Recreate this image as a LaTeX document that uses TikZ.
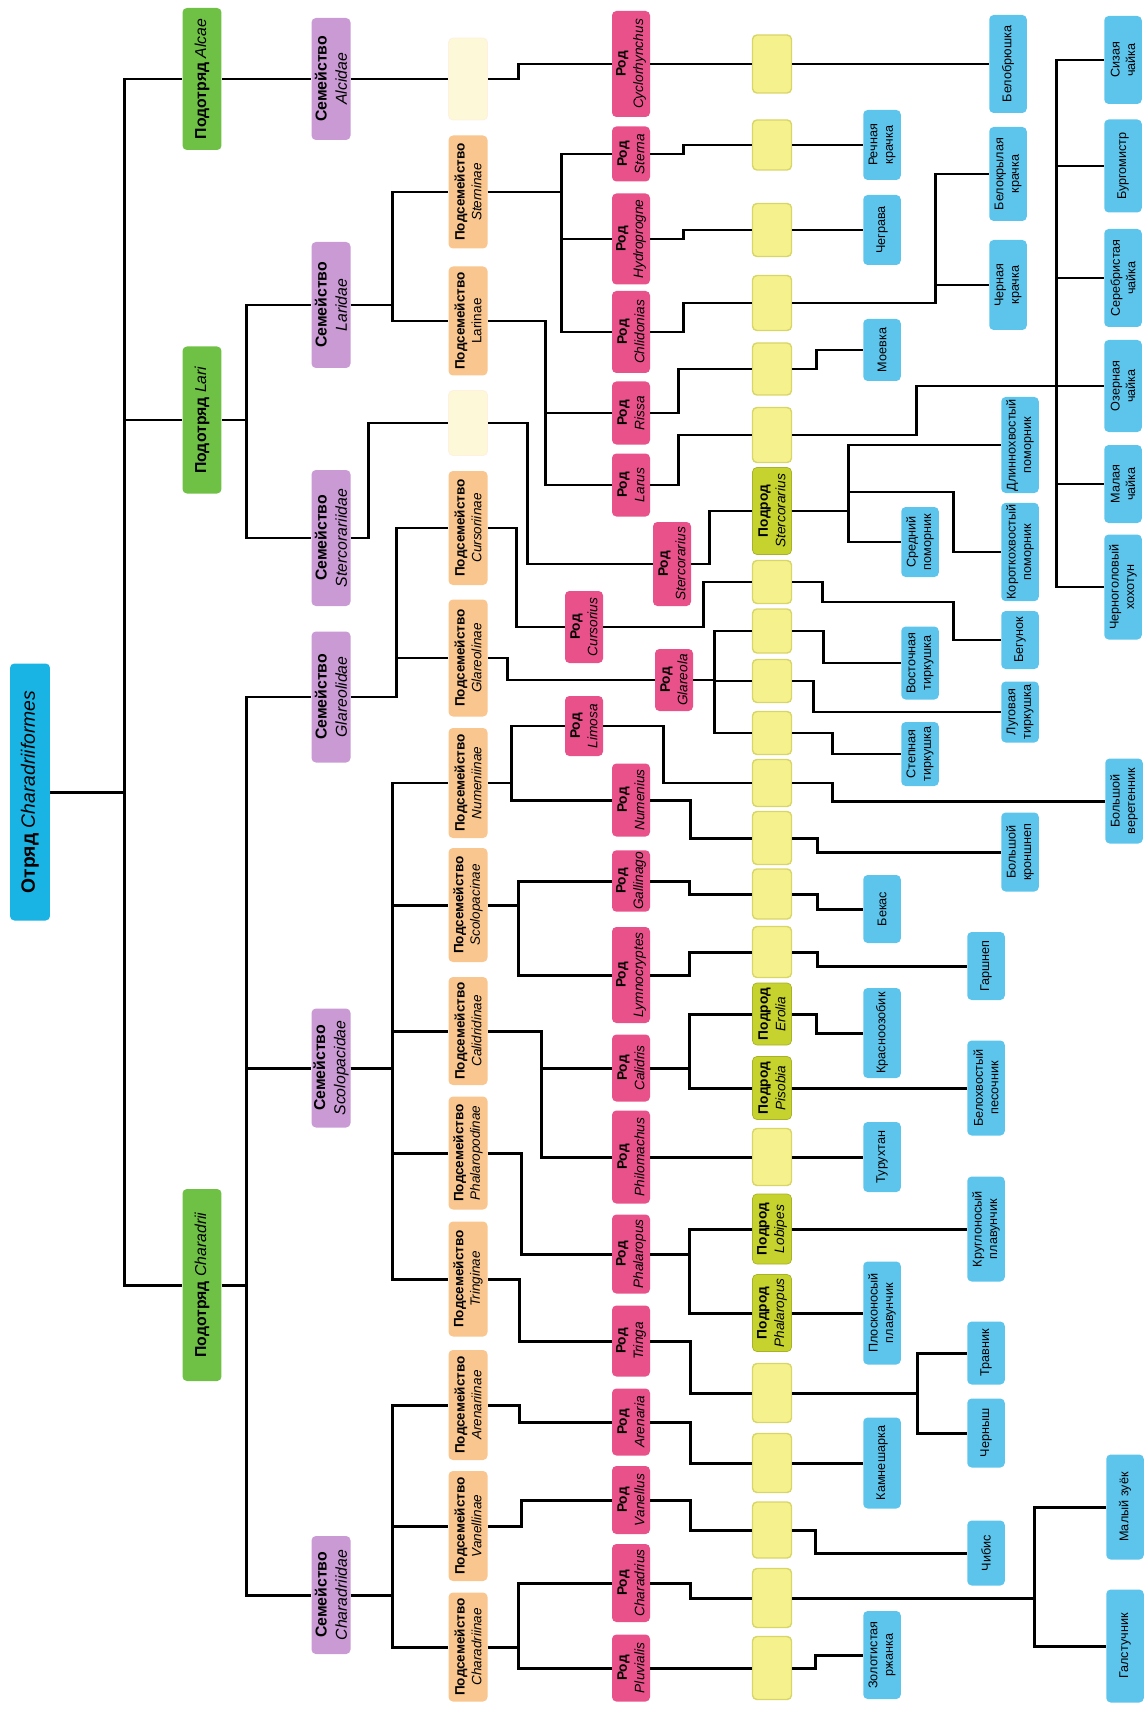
\documentclass[tikz,border=0pt]{standalone}
\usepackage{fontspec}
\setmainfont{Liberation Sans}
\definecolor{ordblue}{HTML}{19B4E3}
\definecolor{subgreen}{HTML}{6FC146}
\definecolor{famlilac}{HTML}{C99AD4}
\definecolor{subforange}{HTML}{F8C68E}
\definecolor{palecream}{HTML}{FDF8D8}
\definecolor{genpink}{HTML}{E9518B}
\definecolor{sgyellow}{HTML}{F5F18C}
\definecolor{sgolive}{HTML}{C6D22D}
\definecolor{spblue}{HTML}{5DC4EC}

% elbow connector: source, offset to the bus, target
\newcommand{\branch}[3]{\draw[link] (#1.south) -- ++(#2,0) |- (#3.north);}

\begin{document}
\begin{tikzpicture}[
    x=0.02cm, y=-0.02cm,
    box/.style={rotate=90, rounded corners=2.5pt, align=center, inner sep=1pt, minimum height=0.78cm},
    len/.style={minimum width=#1*0.02cm},
    ordbox/.style={box, fill=ordblue, minimum height=0.8cm, font=\fontsize{11}{13}\selectfont},
    suborder/.style={box, fill=subgreen, font=\fontsize{9}{11}\selectfont},
    family/.style={box, fill=famlilac, font=\fontsize{9}{11.5}\selectfont},
    subfam/.style={box, fill=subforange, font=\fontsize{7.7}{9.5}\selectfont},
    blanksf/.style={box, fill=palecream, draw=orange!12},
    genus/.style={box, fill=genpink, minimum height=0.76cm, font=\fontsize{7.8}{10}\selectfont},
    blanksg/.style={box, fill=sgyellow, draw=sgyellow!75!olive, thick},
    subgen/.style={box, fill=sgolive, draw=sgolive!85!black, font=\fontsize{7.8}{10}\selectfont},
    species/.style={box, fill=spblue, minimum height=0.75cm, font=\fontsize{7.2}{8.8}\selectfont},
    link/.style={line width=1.7pt, black},
]
    \useasboundingbox (0,0) rectangle (1144,1709);

    % Order and suborders
    \node[ordbox, len=257] (ord) at (30,792) {\textbf{Отряд} \textit{Charadriiformes}};
    \node[suborder, len=142] (soAlc) at (202,79) {\textbf{Подотряд} \textit{Alcae}};
    \node[suborder, len=147] (soLar) at (202,420) {\textbf{Подотряд} \textit{Lari}};
    \node[suborder, len=192] (soCha) at (202,1285) {\textbf{Подотряд} \textit{Charadrii}};

    % Families
    \node[family, len=122] (fAlc) at (331,79) {\textbf{Семейство}\\\textit{Alcidae}};
    \node[family, len=126] (fLar) at (331,305) {\textbf{Семейство}\\\textit{Laridae}};
    \node[family, len=136] (fSte) at (331,538) {\textbf{Семейство}\\\textit{Stercorariidae}};
    \node[family, len=131] (fGla) at (331,697) {\textbf{Семейство}\\\textit{Glareolidae}};
    \node[family, len=119] (fSco) at (331,1068) {\textbf{Семейство}\\\textit{Scolopacidae}};
    \node[family, len=118] (fCha) at (331,1595) {\textbf{Семейство}\\\textit{Charadriidae}};

    % Subfamilies
    \node[blanksf, len=82] (sfE1) at (468,79) {};
    \node[subfam, len=113] (sfStern) at (468,192) {\textbf{Подсемейство}\\\textit{Sterninae}};
    \node[subfam, len=109] (sfLar) at (468,321) {\textbf{Подсемейство}\\Larinae};
    \node[blanksf, len=65] (sfE2) at (468,423) {};
    \node[subfam, len=114] (sfCurs) at (468,528) {\textbf{Подсемейство}\\\textit{Cursoriinae}};
    \node[subfam, len=117] (sfGlar) at (468,658) {\textbf{Подсемейство}\\\textit{Glareolinae}};
    \node[subfam, len=110] (sfNum) at (468,783) {\textbf{Подсемейство}\\\textit{Numeniinae}};
    \node[subfam, len=114] (sfScol) at (468,905) {\textbf{Подсемейство}\\\textit{Scolopacinae}};
    \node[subfam, len=108] (sfCal) at (468,1031) {\textbf{Подсемейство}\\\textit{Calidridinae}};
    \node[subfam, len=113] (sfPhal) at (468,1153) {\textbf{Подсемейство}\\\textit{Phalaropodinae}};
    \node[subfam, len=115] (sfTring) at (468,1279) {\textbf{Подсемейство}\\\textit{Tringinae}};
    \node[subfam, len=110] (sfAren) at (468,1405) {\textbf{Подсемейство}\\\textit{Arenariinae}};
    \node[subfam, len=110] (sfVan) at (468,1526) {\textbf{Подсемейство}\\\textit{Vanellinae}};
    \node[subfam, len=109] (sfChar) at (468,1647) {\textbf{Подсемейство}\\\textit{Charadriinae}};

    % Genera
    \node[genus, len=106] (gCyc) at (631,64) {\textbf{Род}\\\textit{Cyclorhynchus}};
    \node[genus, len=55] (gSte) at (631,154) {\textbf{Род}\\\textit{Sterna}};
    \node[genus, len=91] (gHyd) at (631,239) {\textbf{Род}\\\textit{Hydroprogne}};
    \node[genus, len=82] (gChl) at (631,332) {\textbf{Род}\\\textit{Chlidonias}};
    \node[genus, len=63] (gRis) at (631,413) {\textbf{Род}\\\textit{Rissa}};
    \node[genus, len=63] (gLar) at (631,485) {\textbf{Род}\\\textit{Larus}};
    \node[genus, len=84] (gStc) at (672,564) {\textbf{Род}\\\textit{Stercorarius}};
    \node[genus, len=72] (gCur) at (584,627) {\textbf{Род}\\\textit{Cursorius}};
    \node[genus, len=62] (gGla) at (674,680) {\textbf{Род}\\\textit{Glareola}};
    \node[genus, len=60] (gLim) at (584,726) {\textbf{Род}\\\textit{Limosa}};
    \node[genus, len=73] (gNum) at (631,800) {\textbf{Род}\\\textit{Numenius}};
    \node[genus, len=61] (gGal) at (631,881) {\textbf{Род}\\\textit{Gallinago}};
    \node[genus, len=96] (gLym) at (631,975) {\textbf{Род}\\\textit{Lymnocryptes}};
    \node[genus, len=67] (gCal) at (631,1068) {\textbf{Род}\\\textit{Calidris}};
    \node[genus, len=93] (gPhi) at (631,1157) {\textbf{Род}\\\textit{Philomachus}};
    \node[genus, len=79] (gPha) at (631,1254) {\textbf{Род}\\\textit{Phalaropus}};
    \node[genus, len=71] (gTri) at (631,1341) {\textbf{Род}\\\textit{Tringa}};
    \node[genus, len=67] (gAre) at (631,1422) {\textbf{Род}\\\textit{Arenaria}};
    \node[genus, len=68] (gVan) at (631,1500) {\textbf{Род}\\\textit{Vanellus}};
    \node[genus, len=78] (gChr) at (631,1583) {\textbf{Род}\\\textit{Charadrius}};
    \node[genus, len=67] (gPlu) at (631,1668) {\textbf{Род}\\\textit{Pluvialis}};

    % Subgenera
    \node[blanksg, len=58] (yCyc) at (772,64) {};
    \node[blanksg, len=50] (ySte) at (772,145) {};
    \node[blanksg, len=53] (yHyd) at (772,230) {};
    \node[blanksg, len=55] (yChl) at (772,303) {};
    \node[blanksg, len=52] (yRis) at (772,369) {};
    \node[blanksg, len=55] (yLar) at (772,435) {};
    \node[subgen, len=87] (yStc) at (772,511) {\textbf{Подрод}\\\textit{Stercorarius}};
    \node[blanksg, len=43] (yCur) at (772,582) {};
    \node[blanksg, len=44] (yGla1) at (772,631) {};
    \node[blanksg, len=43] (yGla2) at (772,681) {};
    \node[blanksg, len=43] (yGla3) at (772,733) {};
    \node[blanksg, len=47] (yLim) at (772,783) {};
    \node[blanksg, len=53] (yNum) at (772,838) {};
    \node[blanksg, len=50] (yGal) at (772,894) {};
    \node[blanksg, len=51] (yLym) at (772,952) {};
    \node[subgen, len=62] (yEro) at (772,1014) {\textbf{Подрод}\\\textit{Erolia}};
    \node[subgen, len=63] (yPis) at (772,1088) {\textbf{Подрод}\\\textit{Pisobia}};
    \node[blanksg, len=57] (yPhi) at (772,1157) {};
    \node[subgen, len=70] (yLob) at (772,1229) {\textbf{Подрод}\\\textit{Lobipes}};
    \node[subgen, len=77] (yPha) at (772,1313) {\textbf{Подрод}\\\textit{Phalaropus}};
    \node[blanksg, len=59] (yTri) at (772,1393) {};
    \node[blanksg, len=59] (yAre) at (772,1463) {};
    \node[blanksg, len=56] (yVan) at (772,1530) {};
    \node[blanksg, len=59] (yChr) at (772,1598) {};
    \node[blanksg, len=63] (yPlu) at (772,1668) {};

    % Species
    \node[species, len=98] (spBel) at (1008,64) {Белобрюшка};
    \node[species, len=70] (spRec) at (882,145) {Речная\\крачка};
    \node[species, len=70] (spChg) at (882,230) {Чеграва};
    \node[species, len=94] (spBkr) at (1008,174) {Белокрылая\\крачка};
    \node[species, len=90] (spChk) at (1008,285) {Черная\\крачка};
    \node[species, len=62] (spMoe) at (882,350) {Моевка};
    \node[species, len=88] (spSiz) at (1123,60) {Сизая\\чайка};
    \node[species, len=93] (spBur) at (1123,166) {Бургомистр};
    \node[species, len=98] (spSer) at (1123,278) {Серебристая\\чайка};
    \node[species, len=92] (spOze) at (1123,386) {Озерная\\чайка};
    \node[species, len=96] (spDli) at (1020,445) {Длиннохвостый\\поморник};
    \node[species, len=78] (spMay) at (1123,484) {Малая\\чайка};
    \node[species, len=97] (spKor) at (1020,552) {Короткохвостый\\поморник};
    \node[species, len=70] (spSre) at (920,542) {Средний\\поморник};
    \node[species, len=105] (spChh) at (1123,587) {Черноголовый\\хохотун};
    \node[species, len=58] (spBeg) at (1020,640) {Бегунок};
    \node[species, len=73] (spVos) at (920,663) {Восточная\\тиркушка};
    \node[species, len=61] (spLug) at (1020,712) {Луговая\\тиркушка};
    \node[species, len=64] (spStp) at (920,754) {Степная\\тиркушка};
    \node[species, len=85] (spBve) at (1124,801) {Большой\\веретенник};
    \node[species, len=79] (spBkn) at (1020,852) {Большой\\кроншнеп};
    \node[species, len=68] (spBek) at (882,909) {Бекас};
    \node[species, len=68] (spGar) at (986,966) {Гаршнеп};
    \node[species, len=90] (spKra) at (882,1033) {Красноозобик};
    \node[species, len=95] (spBkh) at (986,1088) {Белохвостый\\песочник};
    \node[species, len=70] (spTur) at (882,1157) {Турухтан};
    \node[species, len=105] (spKru) at (986,1229) {Круглоносый\\плавунчик};
    \node[species, len=103] (spPlo) at (882,1313) {Плосконосый\\плавунчик};
    \node[species, len=63] (spTra) at (986,1353) {Травник};
    \node[species, len=69] (spChy) at (986,1433) {Черныш};
    \node[species, len=91] (spKam) at (882,1463) {Камнешарка};
    \node[species, len=65] (spChb) at (986,1553) {Чибис};
    \node[species, len=105] (spMzu) at (1125,1507) {Малый зуёк};
    \node[species, len=113] (spGal) at (1125,1646) {Галстучник};
    \node[species, len=88] (spZol) at (882,1655) {Золотистая\\ржанка};

    % Order -> suborders -> families
    \foreach \s in {soAlc,soLar,soCha} {\branch{ord}{74}{\s}}
    \draw[link] (soAlc.south) -- (fAlc.north);
    \foreach \s in {fLar,fSte} {\branch{soLar}{25}{\s}}
    \foreach \s in {fGla,fSco,fCha} {\branch{soCha}{25}{\s}}

    % Families -> subfamilies
    \draw[link] (fAlc.south) -- (sfE1.north);
    \foreach \s in {sfStern,sfLar} {\branch{fLar}{42}{\s}}
    \branch{fSte}{18}{sfE2}
    \foreach \s in {sfCurs,sfGlar} {\branch{fGla}{46}{\s}}
    \foreach \s in {sfNum,sfScol,sfCal,sfPhal,sfTring} {\branch{fSco}{42}{\s}}
    \foreach \s in {sfAren,sfVan,sfChar} {\branch{fCha}{42}{\s}}

    % Subfamilies -> genera
    \branch{sfE1}{31}{gCyc}
    \foreach \s in {gSte,gHyd,gChl} {\branch{sfStern}{74}{\s}}
    \foreach \s in {gRis,gLar} {\branch{sfLar}{58}{\s}}
    \branch{sfE2}{40}{gStc}
    \branch{sfCurs}{29}{gCur}
    \branch{sfGlar}{20}{gGla}
    \foreach \s in {gLim,gNum} {\branch{sfNum}{24}{\s}}
    \foreach \s in {gGal,gLym} {\branch{sfScol}{31}{\s}}
    \foreach \s in {gCal,gPhi} {\branch{sfCal}{54}{\s}}
    \branch{sfPhal}{34}{gPha}
    \branch{sfTring}{32}{gTri}
    \branch{sfAren}{32}{gAre}
    \branch{sfVan}{34}{gVan}
    \foreach \s in {gChr,gPlu} {\branch{sfChar}{31}{\s}}

    % Genera -> subgenera
    \draw[link] (gCyc.south) -- (yCyc.north);
    \branch{gSte}{33}{ySte}
    \branch{gHyd}{33}{yHyd}
    \branch{gChl}{33}{yChl}
    \branch{gRis}{28}{yRis}
    \branch{gLar}{28}{yLar}
    \branch{gStc}{18}{yStc}
    \branch{gCur}{100}{yCur}
    \foreach \s in {yGla1,yGla2,yGla3} {\branch{gGla}{21}{\s}}
    \branch{gLim}{60}{yLim}
    \branch{gNum}{40}{yNum}
    \branch{gGal}{39}{yGal}
    \branch{gLym}{39}{yLym}
    \foreach \s in {yEro,yPis} {\branch{gCal}{39}{\s}}
    \draw[link] (gPhi.south) -- (yPhi.north);
    \foreach \s in {yLob,yPha} {\branch{gPha}{39}{\s}}
    \branch{gTri}{40}{yTri}
    \branch{gAre}{40}{yAre}
    \branch{gVan}{40}{yVan}
    \branch{gChr}{40}{yChr}
    \draw[link] (gPlu.south) -- (yPlu.north);

    % Subgenera -> species
    \draw[link] (yCyc.south) -- (spBel.north);
    \draw[link] (ySte.south) -- (spRec.north);
    \draw[link] (yHyd.south) -- (spChg.north);
    \foreach \s in {spBkr,spChk} {\branch{yChl}{143}{\s}}
    \branch{yRis}{24}{spMoe}
    \coordinate (kGull) at (1056,386);
    \draw[link] (yLar.south) -- ++(124,0) |- (kGull);
    \foreach \s in {spSiz,spBur,spSer,spOze,spMay,spChh} {\draw[link] (kGull) |- (\s.north);}
    \foreach \s in {spDli,spSre} {\branch{yStc}{57}{\s}}
    \coordinate (kKor) at (849,492);
    \coordinate (kBeg) at (822,602);
    \draw[link] (kKor) -- ++(104,0) |- (spKor.north);
    \draw[link] (yCur.south) -| (kBeg) -- ++(131,0) |- (spBeg.north);
    \branch{yGla1}{31}{spVos}
    \branch{yGla2}{21}{spLug}
    \branch{yGla3}{40}{spStp}
    \branch{yLim}{40}{spBve}
    \branch{yNum}{25}{spBkn}
    \branch{yGal}{25}{spBek}
    \branch{yLym}{25}{spGar}
    \branch{yEro}{25}{spKra}
    \draw[link] (yPis.south) -- (spBkh.north);
    \draw[link] (yPhi.south) -- (spTur.north);
    \draw[link] (yLob.south) -- (spKru.north);
    \draw[link] (yPha.south) -- (spPlo.north);
    \foreach \s in {spTra,spChy} {\branch{yTri}{125}{\s}}
    \draw[link] (yAre.south) -- (spKam.north);
    \branch{yVan}{23}{spChb}
    \foreach \s in {spMzu,spGal} {\branch{yChr}{242}{\s}}
    \branch{yPlu}{23}{spZol}

\end{tikzpicture}
\end{document}
